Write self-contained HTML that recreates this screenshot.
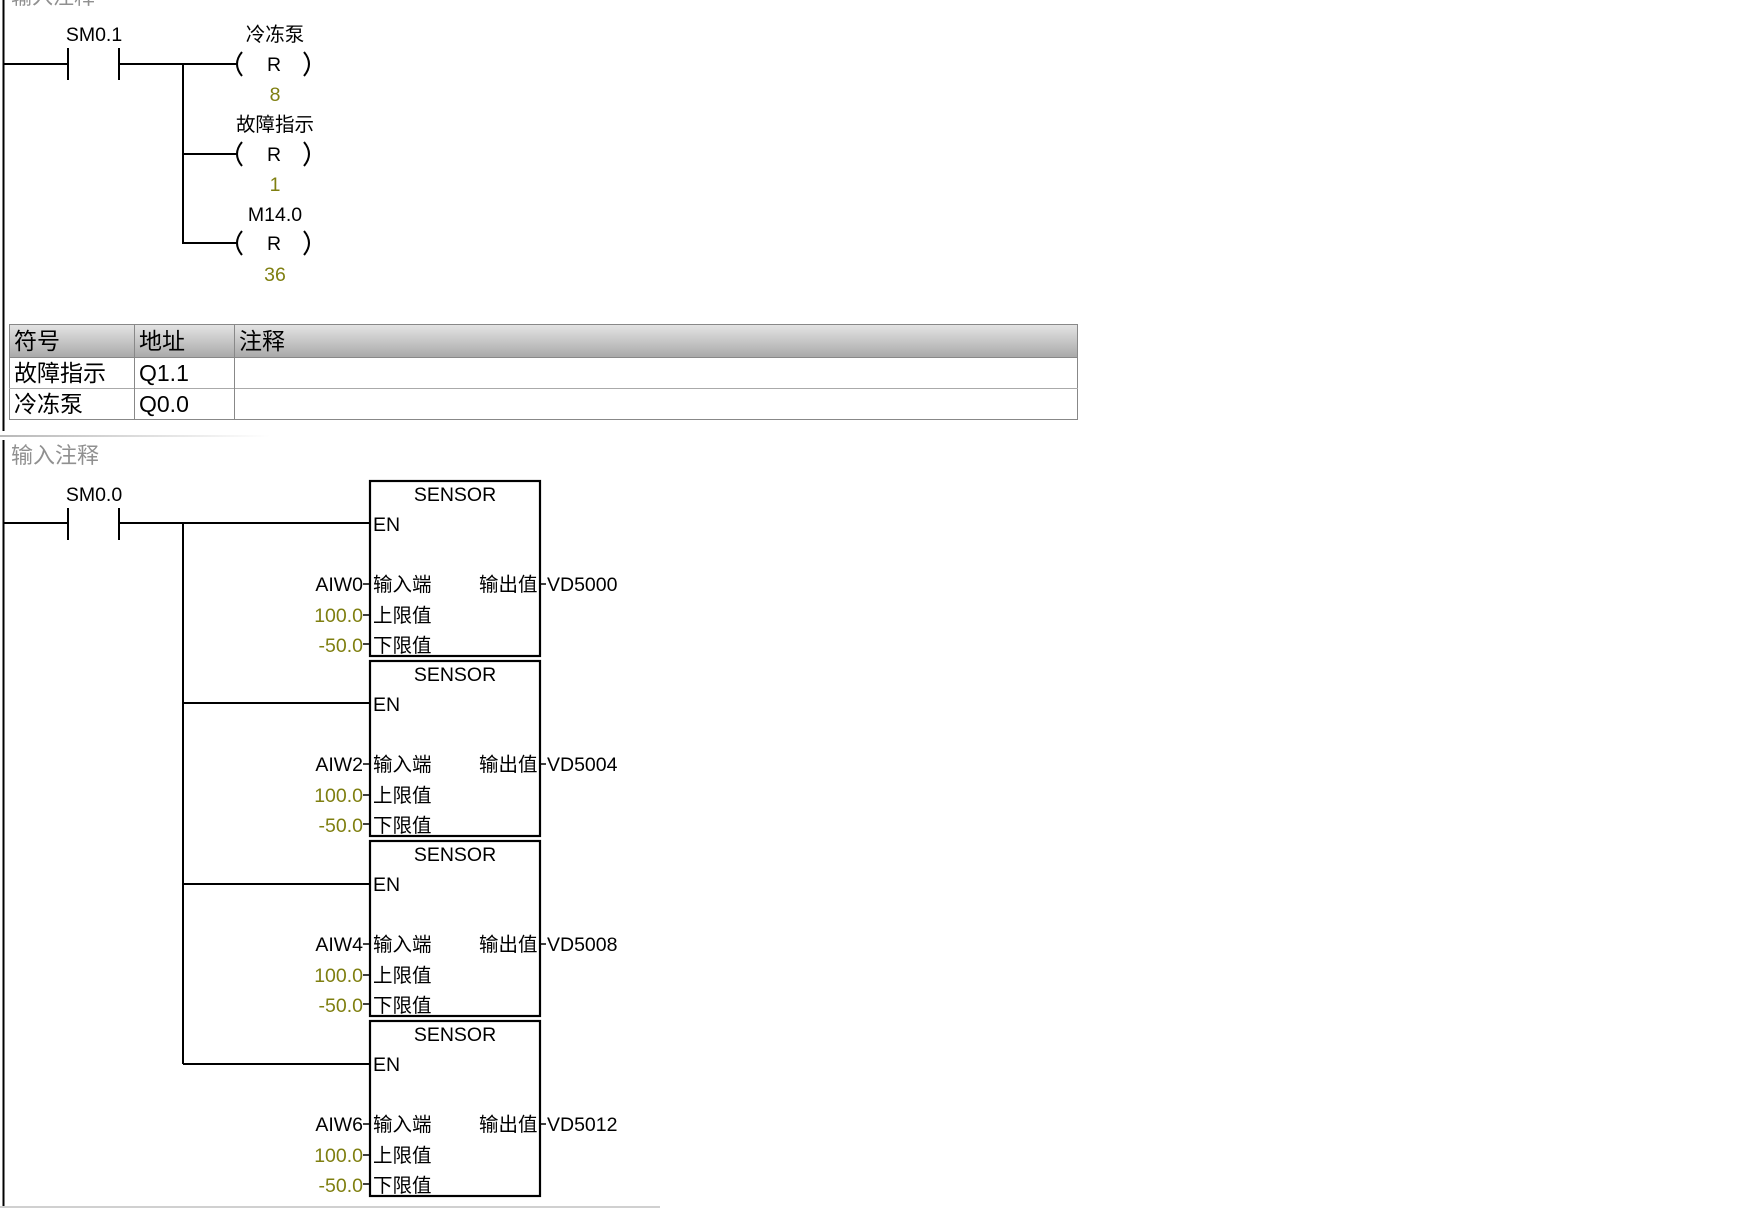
<!DOCTYPE html>
<html><head><meta charset="utf-8"><style>
html,body{margin:0;padding:0;background:#fff;width:1763px;height:1208px;overflow:hidden}
text{font-family:"Liberation Sans","Noto Sans CJK SC",sans-serif}
</style></head><body>
<svg width="1763" height="1208" viewBox="0 0 1763 1208" xmlns="http://www.w3.org/2000/svg">
<defs>
<linearGradient id="hg" x1="0" y1="0" x2="0" y2="1"><stop offset="0" stop-color="#e4e4e4"/><stop offset="1" stop-color="#a9a9a9"/></linearGradient>
<linearGradient id="sep" x1="0" y1="0" x2="1" y2="0"><stop offset="0" stop-color="#b8b8b8"/><stop offset="1" stop-color="#ffffff"/></linearGradient>
</defs>
<text x="11" y="4" font-size="21" fill="#909090">输入注释</text>
<line x1="3.5" y1="0" x2="3.5" y2="431" stroke="#000" stroke-width="2"/>
<g stroke="#000" stroke-width="2" fill="none">
<line x1="3" y1="64" x2="68" y2="64"/><line x1="68" y1="48" x2="68" y2="80"/><line x1="119" y1="48" x2="119" y2="80"/>
<line x1="119" y1="64" x2="238" y2="64"/><line x1="183" y1="64" x2="183" y2="244"/>
<line x1="183" y1="154" x2="238" y2="154"/><line x1="183" y1="243" x2="238" y2="243"/>
<path d="M242 52 Q232 64 242 76"/><path d="M304 52 Q314 64 304 76"/>
<path d="M242 142 Q232 154 242 166"/><path d="M304 142 Q314 154 304 166"/>
<path d="M242 231 Q232 243 242 255"/><path d="M304 231 Q314 243 304 255"/>
</g>
<g font-size="19.5" text-anchor="middle">
<text x="94" y="41">SM0.1</text>
<text x="275" y="41">冷冻泵</text><text x="274" y="71">R</text><text x="275" y="101" fill="#7f7f10">8</text>
<text x="275" y="131">故障指示</text><text x="274" y="161">R</text><text x="275" y="191" fill="#7f7f10">1</text>
<text x="275" y="221">M14.0</text><text x="274" y="250">R</text><text x="275" y="281" fill="#7f7f10">36</text>
</g>
<rect x="9.5" y="324.5" width="1068" height="33" fill="url(#hg)" stroke="#888"/>
<rect x="9.5" y="357.5" width="1068" height="62" fill="#fff" stroke="#888"/>
<line x1="9" y1="388.5" x2="1078" y2="388.5" stroke="#aaa"/>
<line x1="134.5" y1="324" x2="134.5" y2="420" stroke="#888"/>
<line x1="234.5" y1="324" x2="234.5" y2="420" stroke="#888"/>
<g font-size="23">
<text x="14" y="349">符号</text><text x="139" y="349">地址</text><text x="239" y="349">注释</text>
<text x="14" y="381">故障指示</text><text x="139" y="381">Q1.1</text>
<text x="14" y="412">冷冻泵</text><text x="139" y="412">Q0.0</text>
</g>
<rect x="0" y="435" width="270" height="2" fill="url(#sep)"/>
<line x1="3.5" y1="440" x2="3.5" y2="1208" stroke="#000" stroke-width="2"/>
<text x="11" y="463" font-size="22" fill="#909090">输入注释</text>
<text x="94" y="501" font-size="19.5" text-anchor="middle">SM0.0</text>
<g stroke="#000" stroke-width="2" fill="none">
<line x1="3" y1="523" x2="68" y2="523"/><line x1="68" y1="508" x2="68" y2="540"/><line x1="119" y1="508" x2="119" y2="540"/>
<line x1="119" y1="523" x2="370" y2="523"/><line x1="183" y1="523" x2="183" y2="1064"/>
<line x1="183" y1="703" x2="370" y2="703"/><line x1="183" y1="884" x2="370" y2="884"/><line x1="183" y1="1064" x2="370" y2="1064"/>
</g>
<rect x="0" y="1206" width="660" height="2" fill="#d0d0d0"/>
<g>
<rect x="370" y="481" width="170" height="175" fill="#fff" stroke="#000" stroke-width="2.2"/>
<g stroke="#000" stroke-width="1.5"><line x1="363" y1="584" x2="370" y2="584"/><line x1="363" y1="615" x2="370" y2="615"/><line x1="363" y1="644" x2="370" y2="644"/><line x1="540" y1="584" x2="546" y2="584"/></g>
<text x="455" y="501" font-size="19.5" text-anchor="middle">SENSOR</text>
<text x="373" y="531" font-size="19.5">EN</text>
<text x="373" y="591" font-size="19.5">输入端</text>
<text x="479" y="591" font-size="19.5">输出值</text>
<text x="373" y="622" font-size="19.5">上限值</text>
<text x="373" y="652" font-size="19.5">下限值</text>
<text x="363" y="591" font-size="19.5" text-anchor="end">AIW0</text>
<text x="363" y="622" font-size="19.5" text-anchor="end" fill="#7f7f10">100.0</text>
<text x="363" y="652" font-size="19.5" text-anchor="end" fill="#7f7f10">-50.0</text>
<text x="547" y="591" font-size="19.5">VD5000</text>
</g>
<g transform="translate(0,180)">
<rect x="370" y="481" width="170" height="175" fill="#fff" stroke="#000" stroke-width="2.2"/>
<g stroke="#000" stroke-width="1.5"><line x1="363" y1="584" x2="370" y2="584"/><line x1="363" y1="615" x2="370" y2="615"/><line x1="363" y1="644" x2="370" y2="644"/><line x1="540" y1="584" x2="546" y2="584"/></g>
<text x="455" y="501" font-size="19.5" text-anchor="middle">SENSOR</text><text x="373" y="531" font-size="19.5">EN</text>
<text x="373" y="591" font-size="19.5">输入端</text><text x="479" y="591" font-size="19.5">输出值</text>
<text x="373" y="622" font-size="19.5">上限值</text><text x="373" y="652" font-size="19.5">下限值</text>
<text x="363" y="591" font-size="19.5" text-anchor="end">AIW2</text>
<text x="363" y="622" font-size="19.5" text-anchor="end" fill="#7f7f10">100.0</text>
<text x="363" y="652" font-size="19.5" text-anchor="end" fill="#7f7f10">-50.0</text>
<text x="547" y="591" font-size="19.5">VD5004</text>
</g>
<g transform="translate(0,360)">
<rect x="370" y="481" width="170" height="175" fill="#fff" stroke="#000" stroke-width="2.2"/>
<g stroke="#000" stroke-width="1.5"><line x1="363" y1="584" x2="370" y2="584"/><line x1="363" y1="615" x2="370" y2="615"/><line x1="363" y1="644" x2="370" y2="644"/><line x1="540" y1="584" x2="546" y2="584"/></g>
<text x="455" y="501" font-size="19.5" text-anchor="middle">SENSOR</text><text x="373" y="531" font-size="19.5">EN</text>
<text x="373" y="591" font-size="19.5">输入端</text><text x="479" y="591" font-size="19.5">输出值</text>
<text x="373" y="622" font-size="19.5">上限值</text><text x="373" y="652" font-size="19.5">下限值</text>
<text x="363" y="591" font-size="19.5" text-anchor="end">AIW4</text>
<text x="363" y="622" font-size="19.5" text-anchor="end" fill="#7f7f10">100.0</text>
<text x="363" y="652" font-size="19.5" text-anchor="end" fill="#7f7f10">-50.0</text>
<text x="547" y="591" font-size="19.5">VD5008</text>
</g>
<g transform="translate(0,540)">
<rect x="370" y="481" width="170" height="175" fill="#fff" stroke="#000" stroke-width="2.2"/>
<g stroke="#000" stroke-width="1.5"><line x1="363" y1="584" x2="370" y2="584"/><line x1="363" y1="615" x2="370" y2="615"/><line x1="363" y1="644" x2="370" y2="644"/><line x1="540" y1="584" x2="546" y2="584"/></g>
<text x="455" y="501" font-size="19.5" text-anchor="middle">SENSOR</text><text x="373" y="531" font-size="19.5">EN</text>
<text x="373" y="591" font-size="19.5">输入端</text><text x="479" y="591" font-size="19.5">输出值</text>
<text x="373" y="622" font-size="19.5">上限值</text><text x="373" y="652" font-size="19.5">下限值</text>
<text x="363" y="591" font-size="19.5" text-anchor="end">AIW6</text>
<text x="363" y="622" font-size="19.5" text-anchor="end" fill="#7f7f10">100.0</text>
<text x="363" y="652" font-size="19.5" text-anchor="end" fill="#7f7f10">-50.0</text>
<text x="547" y="591" font-size="19.5">VD5012</text>
</g>
</svg>
</body></html>
